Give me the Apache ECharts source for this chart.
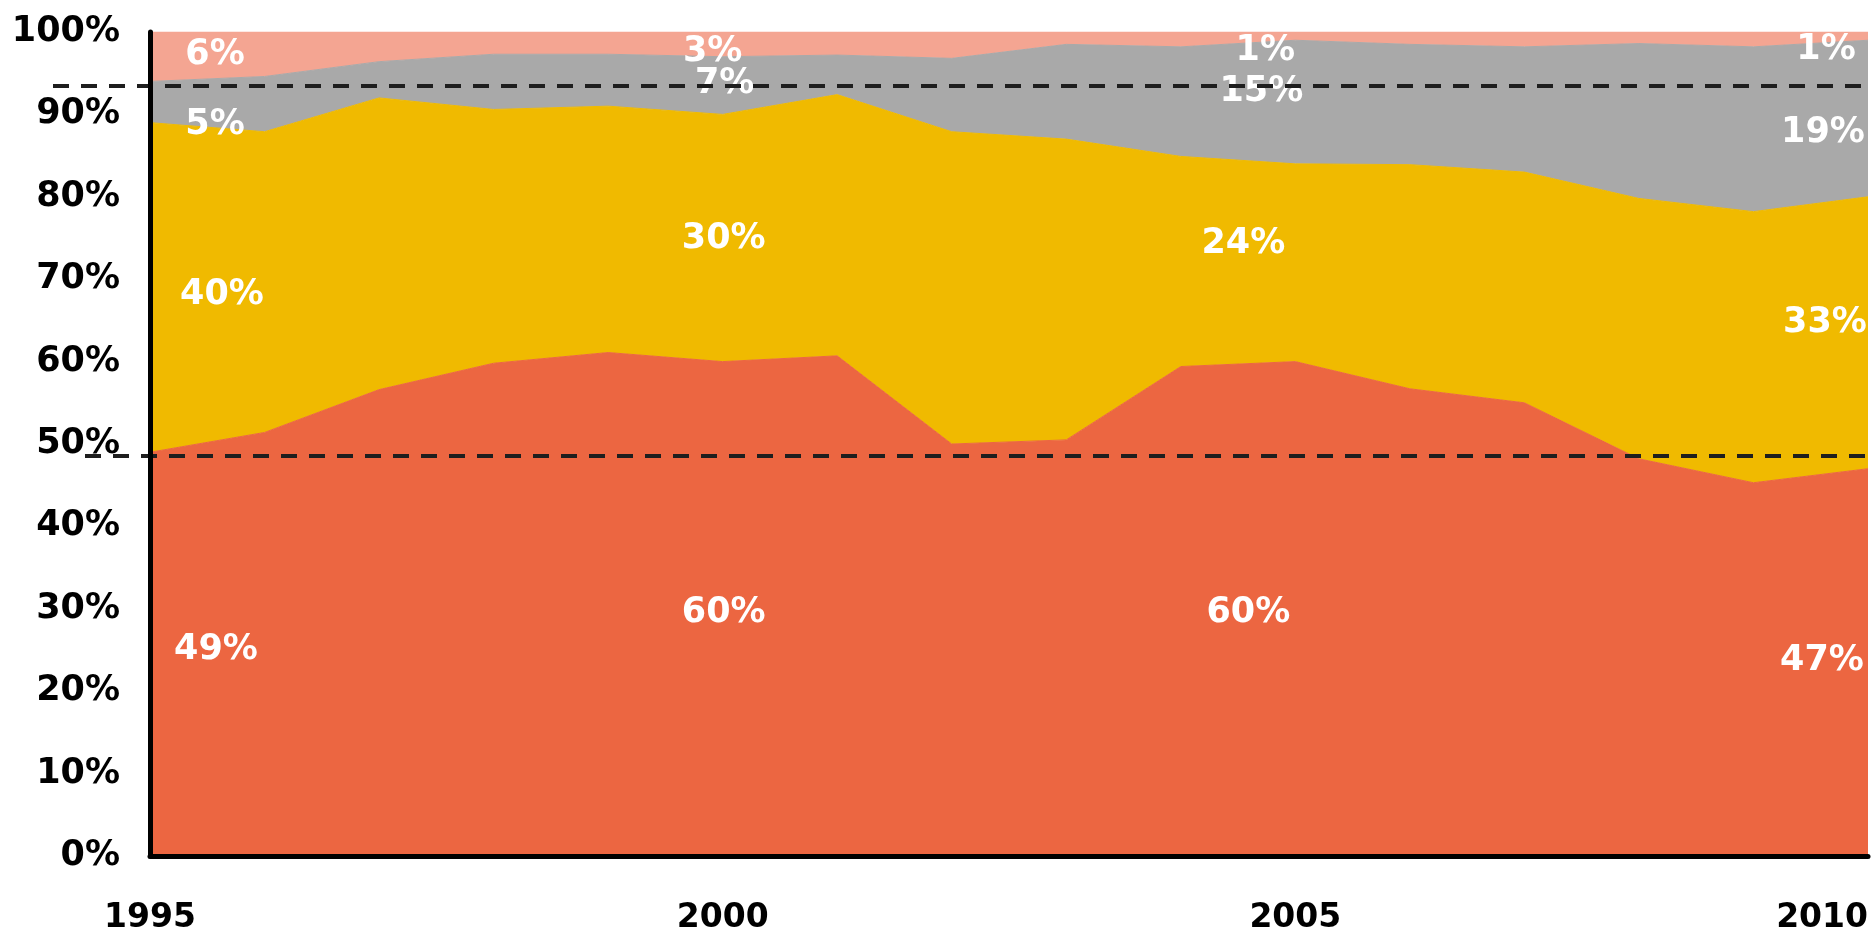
<!DOCTYPE html>
<html>
<head>
<meta charset="utf-8">
<script src="https://cdn.jsdelivr.net/npm/echarts@6/dist/echarts.min.js"></script>
<style>
html,body{margin:0;padding:0;background:#ffffff;}
#chart{width:1874px;height:931px;}
</style>
</head>
<body>
<div id="chart"></div>
<script>
// ---- data (shares in %, stacked bottom to top) ----
const years = ['1995','1996','1997','1998','1999','2000','2001','2002','2003','2004','2005','2006','2007','2008','2009','2010'];
const shareBottom = [49, 51.4, 56.6, 59.8, 61.1, 60, 60.7, 50.0, 50.5, 59.4, 60, 56.7, 55.0, 48.2, 45.3, 47];
const shareSecond = [40, 36.5, 35.4, 30.8, 29.9, 30, 31.7, 37.9, 36.5, 25.5, 24, 27.2, 28.0, 31.6, 32.9, 33];
const shareThird  = [5, 6.7, 4.4, 6.7, 6.3, 7, 4.8, 8.9, 11.5, 13.3, 15, 14.6, 15.2, 18.8, 20.0, 19];
const shareTop    = [6, 5.4, 3.6, 2.7, 2.7, 3, 2.8, 3.2, 1.5, 1.8, 1, 1.5, 1.8, 1.4, 1.8, 1];
const labelYears = ['1995', '2000', '2005', '2010'];
const guideLevels = [93.5, 48.6];
const yTickValues = [0, 10, 20, 30, 40, 50, 60, 70, 80, 90, 100];

// ---- styling ----
const colors = ['#EC6641', '#F0BA00', '#A9A9A9', '#F4A592'];
const stackArrays = [shareBottom, shareSecond, shareThird, shareTop];
// per label pixel nudges [dx, dy], by labelYears index then stack index
const labelNudges = [
  [[66, -4], [72, 7], [65, 23], [65, -2]],
  [[1, 4], [1, 1], [2, -2], [-10, 8]],
  [[-47, 4], [-52, -19], [-34, -10], [-30, 15]],
  [[-46, -1], [-43, -10], [-45, 14], [-42, 14]]
];

const areaSeries = stackArrays.map((arr, s) => ({
  type: 'line',
  stack: 'total',
  data: arr.slice(),
  showSymbol: false,
  symbol: 'none',
  lineStyle: { width: 1, color: colors[s] },
  itemStyle: { color: colors[s] },
  areaStyle: { color: colors[s], opacity: 1 },
  silent: true,
  z: 2
}));

const labelData = [];
labelYears.forEach((yr, li) => {
  const i = years.indexOf(yr);
  let below = 0;
  stackArrays.forEach((arr, s) => {
    const v = arr[i];
    labelData.push({
      value: [yr, below + v / 2, v],
      label: { offset: labelNudges[li][s] }
    });
    below += v;
  });
});

const labelSeries = {
  type: 'scatter',
  data: labelData,
  symbolSize: 0,
  itemStyle: { color: '#ffffff', opacity: 1 },
  silent: true,
  z: 3,
  label: {
    show: true,
    position: 'inside',
    formatter: p => Math.round(p.value[2]) + '%',
    color: '#ffffff',
    opacity: 1,
    fontFamily: 'DejaVu Sans',
    fontWeight: 'bold',
    fontSize: 35
  },
  markLine: {
    silent: true,
    symbol: ['none', 'none'],
    z: 6,
    label: { show: false },
    lineStyle: { color: '#1e1e1e', width: 4, type: [16, 12], opacity: 1 },
    emphasis: { disabled: true },
    data: [
      [{ x: 53, yAxis: guideLevels[0] }, { xAxis: years[years.length - 1], yAxis: guideLevels[0] }],
      [{ x: 85, yAxis: guideLevels[1] }, { xAxis: years[years.length - 1], yAxis: guideLevels[1] }]
    ]
  }
};

const chart = echarts.init(document.getElementById('chart'), null, { renderer: 'canvas' });
chart.setOption({
  animation: false,
  backgroundColor: '#ffffff',
  grid: { left: 150, right: 6, top: 32, bottom: 75, containLabel: false, outerBoundsMode: 'none' },
  xAxis: {
    type: 'category',
    data: years,
    boundaryGap: false,
    z: 10,
    axisLine: { show: true, lineStyle: { color: '#000', width: 5 } },
    axisTick: { show: false },
    splitLine: { show: false },
    axisLabel: {
      interval: 4,
      margin: 46,
      color: '#000',
      fontFamily: 'DejaVu Sans',
      fontWeight: 'bold',
      fontSize: 33,
      alignMaxLabel: 'right'
    }
  },
  yAxis: {
    type: 'value',
    min: yTickValues[0],
    max: yTickValues[yTickValues.length - 1],
    interval: 10,
    z: 10,
    axisLine: { show: true, lineStyle: { color: '#000', width: 5 } },
    axisTick: { show: false },
    splitLine: { show: false },
    axisLabel: {
      margin: 30,
      color: '#000',
      fontFamily: 'DejaVu Sans',
      fontWeight: 'bold',
      fontSize: 35,
      formatter: v => v + '%'
    }
  },
  series: areaSeries.concat([labelSeries])
});
</script>
</body>
</html>
